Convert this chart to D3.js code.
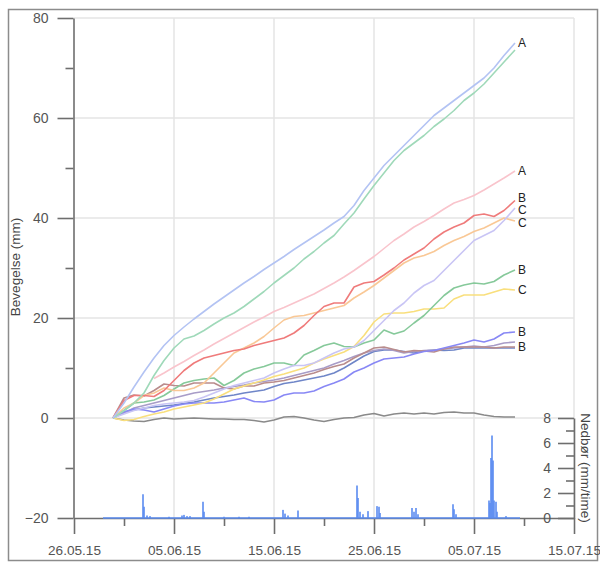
<!DOCTYPE html>
<html><head><meta charset="utf-8">
<script src="https://cdn.jsdelivr.net/npm/d3@7"></script>
<style>html,body{margin:0;padding:0;background:#fff;}svg{display:block;}</style>
</head><body>
<svg id="chart" width="600" height="562"></svg>
<script>
// ---------- DATA ----------
// sample days, counted from 26.05.2015
const days = [3.9,5,6,7,8,9,10,11,12,13,14,15,16,17,18,19,20,21,22,23,24,25,26,27,28,29,30,31,32,33,34,35,36,37,38,39,40,41,42,43,44.1];

const blueA    = [0,3,6.2,9.2,12,14.5,16.5,18.2,19.8,21.3,22.8,24.2,25.6,27,28.3,29.7,31,32.3,33.7,35,36.3,37.6,39,40.3,42.5,45.5,48,50.5,52.5,54.5,56.5,58.5,60.5,62,63.5,65,66.5,68,70,72.5,75];
const greenA   = [0,1.5,3,5,8.5,11.5,14,15.8,16.4,17.5,18.8,20,21,22.3,23.8,25.3,27,28.5,30,31.8,33.3,35,36.5,38.8,41,43.8,46.5,49,51.5,53.5,55,56.5,58.3,59.8,61.5,63.5,65,66.8,69,71.2,73.6];
const pinkA    = [null,null,null,null,7.9,9,10.2,11.3,12.5,13.6,14.8,15.9,17,18.1,19.2,20.2,21.3,22.1,23,23.9,24.8,25.9,27,28.2,29.5,30.9,32.3,33.9,35.5,36.8,38.2,39.3,40.5,41.8,43,43.7,44.5,45.6,46.8,48,49.4];
const redB     = [0,3.5,4.5,4.5,4.3,5.5,7.5,9.5,11,12,12.5,13,13.5,13.8,14.5,15,15.5,16,17,18.5,20.5,22.3,23,23,26.2,27,27.3,28.6,30,31.6,32.8,34,35.8,37.2,38.2,39,40.5,40.8,40.3,41.5,43.5];
const lavC     = [0,0.8,1.5,2,2.5,2.8,3,3.2,3.5,4.2,5,5.8,6.5,7,7.5,8,9,9.8,10.5,10.5,11,12,13,13.8,14.2,15.5,17.5,19.5,21.5,23,25,26.5,27.5,29.5,31.5,33.5,35.5,36.5,37.5,39.5,42];
const peachC   = [0,2,3,4.5,5,6,5.5,5.5,6,7,9,11,13,14,15,16.3,18,19.6,20.3,20.5,21,21.5,22,22.5,24,25.2,26.5,28,29.5,31,32,32.5,33.3,34.5,35.5,36.3,37.3,38,39,40,39.4];
const greenB   = [0,1.5,3,3.2,3.6,4.5,5.8,7,7.5,7.8,8,6.5,7.5,9,9.8,10.3,11,11,10.5,12.6,13.5,14.5,15,14.3,14.2,15,15.6,17.6,16.8,17.4,19,20.5,22.5,24.5,26,26.6,27,26.8,27.3,28.6,29.6];
const yellowC  = [0,-0.5,-0.3,0.3,0.8,1.2,1.8,2.2,2.6,3,3.8,4.8,5.8,6.4,7,7.6,8.3,8.8,9.4,10,11,11.8,12.5,13.2,14.3,16.5,19.2,20.8,21,21,21.3,21.8,21.8,22,23.8,24.6,24.6,24.6,25.2,25.8,25.6];
const violetB  = [0,1.2,1.8,1.6,1.2,1.8,2.4,2.8,3,3,3,3.2,3.6,4,3.3,3.2,3.6,4.6,5,5,5.4,6.3,7,7.8,9.2,10,11,11.8,12,12.2,12.8,13.3,13.5,14,14.5,15,15.6,15.2,15.8,17,17.2];
const brownB   = [0,4,4.6,4.4,5.5,6.8,6.5,6.4,7,7,7,6,5.8,6.4,6.4,7,7.2,7.5,8,8.5,9,9.7,10.3,10.8,12,13,14,14.2,13.7,13.2,13.5,13.4,13.2,13.8,14.2,14.2,14.2,14.2,14,14.2,14.2];
const grayLav  = [0,1,2,2.5,3,3.5,4,4.5,5,5.3,5.6,6,6.3,6.6,7,7.3,7.6,8,8.5,9,9.5,10,10.8,11.5,12.3,13,13.5,13.8,13.5,13,13.3,13.5,13.6,13.8,14,14.2,14.4,14.2,14.5,15,15.2];
const steel    = [0,1.2,1.6,2,2.2,2.4,2.6,2.9,3.2,3.6,4,4.3,4.6,5,5.3,5.6,6.3,6.9,7.2,7.6,8,8.4,9,10,11.2,12.4,13.3,13.6,13.6,13.3,13,13.4,13.6,13.5,13.6,14,14,14,14,14,14];
const grayRef  = [0,-0.4,-0.6,-0.7,-0.3,0,-0.2,-0.1,0,-0.1,-0.2,-0.2,-0.3,-0.3,-0.5,-0.8,-0.4,0.2,0.3,0,-0.4,-0.7,-0.3,0,0.1,0.6,0.9,0.4,0.8,1,0.8,1,0.8,1.1,1.2,1,1,0.6,0.3,0.2,0.2];

const seriesNames  = ["blueA","greenA","pinkA","redB","lavC","peachC","greenB","yellowC","violetB","brownB","grayLav","steel","grayRef"];
const seriesValues = [blueA,greenA,pinkA,redB,lavC,peachC,greenB,yellowC,violetB,brownB,grayLav,steel,grayRef];
const seriesLabels = ["A",null,"A","B","C","C","B","C","B","B",null,null,null];
const seriesColors = ["#b3c3f3","#9fd9b9","#f9c4cc","#ef7b7b","#c9c5f5","#f9c896","#86c99a","#f9df7d","#8888f5","#b98c8c","#a89cc8","#6f86c8","#8a8a8a"];

// precipitation (mm/time), day offsets from 26.05.2015
const precipDays   = [6.9,7.0,7.3,7.6,9.5,10.8,11.0,11.3,11.6,12.9,13.0,15.0,16.5,17.5,20.9,21.1,21.4,22.4,28.3,28.4,28.6,28.9,29.4,30.3,30.5,30.6,33.8,34.0,34.2,34.4,37.9,38.0,38.2,41.5,41.6,41.7,41.8,41.9,42.0,42.2,42.3,43.2];
const precipValues = [1.9,0.9,0.2,0.15,0.1,0.2,0.25,0.15,0.15,1.3,0.5,0.1,0.1,0.1,0.65,0.35,0.2,0.6,2.6,1.6,0.5,0.3,0.55,0.95,0.9,0.4,0.8,0.5,0.8,0.3,1.1,0.7,0.3,1.4,1.2,4.8,6.6,4.6,1.4,1.3,0.5,0.15];
const precipRange  = [2.9,44.6];

const leftTicks    = [-20,0,20,40,60,80];
const leftMinor    = [-10,10,30,50,70];
const rightTicks   = [0,2,4,6,8];
const rightMinor   = [1,3,5,7];
const xTickDays    = [0,10,20,30,40,50];
const xMinorDays   = [5,15,25,35,45];

// ---------- DRAW ----------
const base = new Date(2015,4,26);
const toDate = d => new Date(base.getTime() + d*86400000);
const svg = d3.select("#chart");
const font = "'Liberation Sans', Arial, sans-serif";

const x  = d3.scaleTime().domain([toDate(0), toDate(50)]).range([74,574]);
const y  = d3.scaleLinear().domain([-20,80]).range([518,18]);
const yR = d3.scaleLinear().domain([0,8]).range([518,418]);

// border
svg.append("rect").attr("x",8.5).attr("y",9.5).attr("width",589).attr("height",551)
  .attr("fill","none").attr("stroke","#8c8c8c").attr("stroke-width",1.5);

// grid
const grid = svg.append("g").attr("stroke","#e4e4e4").attr("stroke-width",1.5);
xTickDays.slice(1).forEach(d => grid.append("line").attr("x1",x(toDate(d))).attr("x2",x(toDate(d))).attr("y1",y(80)).attr("y2",y(-20)));
[0,20,40,60,80].forEach(v => grid.append("line").attr("x1",74).attr("x2",574).attr("y1",y(v)).attr("y2",y(v)));

function styleAxis(g){
  g.selectAll("path,line").attr("stroke","#6e6e6e").attr("stroke-width",1.6);
  g.selectAll("text").attr("fill","#555").style("font-family",font).style("font-size","14px");
}

// left axis
const gL = svg.append("g").attr("transform","translate(73.5,0)")
  .call(d3.axisLeft(y).tickValues(leftTicks).tickSize(16).tickSizeOuter(0).tickPadding(9));
styleAxis(gL);
const gLm = svg.append("g").attr("transform","translate(73.5,0)")
  .call(d3.axisLeft(y).tickValues(leftMinor).tickSize(8).tickSizeOuter(0).tickFormat(""));
gLm.select(".domain").remove(); styleAxis(gLm);

// bottom axis
const gB = svg.append("g").attr("transform","translate(0,518)")
  .call(d3.axisBottom(x).tickValues(xTickDays.map(toDate)).tickSize(16).tickSizeOuter(0).tickPadding(11).tickFormat(d3.timeFormat("%d.%m.%y")));
styleAxis(gB);
gB.selectAll("text").style("font-size","13.6px");
const gBm = svg.append("g").attr("transform","translate(0,518)")
  .call(d3.axisBottom(x).tickValues(xMinorDays.map(toDate)).tickSize(8).tickSizeOuter(0).tickFormat(""));
gBm.select(".domain").remove(); styleAxis(gBm);

// right axis
const gR = svg.append("g").attr("transform","translate(574,0)")
  .call(d3.axisLeft(yR).tickValues(rightTicks).tickSize(16).tickSizeOuter(0).tickPadding(7));
styleAxis(gR);
const gRm = svg.append("g").attr("transform","translate(574,0)")
  .call(d3.axisLeft(yR).tickValues(rightMinor).tickSize(8).tickSizeOuter(0).tickFormat(""));
gRm.select(".domain").remove(); styleAxis(gRm);

// axis titles
svg.append("text").attr("transform","translate(20,267) rotate(-90)").attr("text-anchor","middle")
  .style("font-family",font).style("font-size","13.5px").attr("fill","#444").text("Bevegelse (mm)");
svg.append("text").attr("transform","translate(581,468) rotate(90)").attr("text-anchor","middle")
  .style("font-family",font).style("font-size","13.5px").attr("fill","#444").text("Nedbør (mm/time)");

// precipitation
const pcol = "#5b8cf0";
svg.append("line").attr("x1",x(toDate(precipRange[0]))).attr("x2",x(toDate(precipRange[1])))
  .attr("y1",yR(0)).attr("y2",yR(0)).attr("stroke",pcol).attr("stroke-width",1.4);
svg.append("g").selectAll("rect").data(precipDays).join("rect")
  .attr("x",(d)=>x(toDate(d))-0.8).attr("width",1.6)
  .attr("y",(d,i)=>yR(precipValues[i])).attr("height",(d,i)=>yR(0)-yR(precipValues[i]))
  .attr("fill",pcol);

// lines
const line = d3.line().defined(v=>v[1]!==null).x(v=>x(toDate(v[0]))).y(v=>y(v[1]));
const order = [12,11,10,9,8,7,6,5,4,3,2,1,0];
order.forEach(i=>{
  const pts = days.map((d,k)=>[d,seriesValues[i][k]]);
  svg.append("path").datum(pts).attr("d",line).attr("fill","none")
    .attr("stroke",seriesColors[i]).attr("stroke-width",1.6).attr("stroke-linejoin","round");
});

// end labels with simple collision avoidance
const labs = [];
seriesLabels.forEach((l,i)=>{ if(l){ const vals=seriesValues[i]; labs.push({t:l,y:y(vals[vals.length-1])}); }});
labs.sort((a,b)=>a.y-b.y);
for(let it=0;it<20;it++){
  for(let k=1;k<labs.length;k++){
    const gap = labs[k].y-labs[k-1].y;
    if(gap<12.5){ const s=(12.5-gap)/2; labs[k].y+=s; labs[k-1].y-=s; }
  }
}
svg.append("g").selectAll("text").data(labs).join("text")
  .attr("x",518).attr("y",d=>d.y).attr("dy","0.35em")
  .style("font-family",font).style("font-size","12px").attr("fill","#222").text(d=>d.t);
</script>
</body></html>
